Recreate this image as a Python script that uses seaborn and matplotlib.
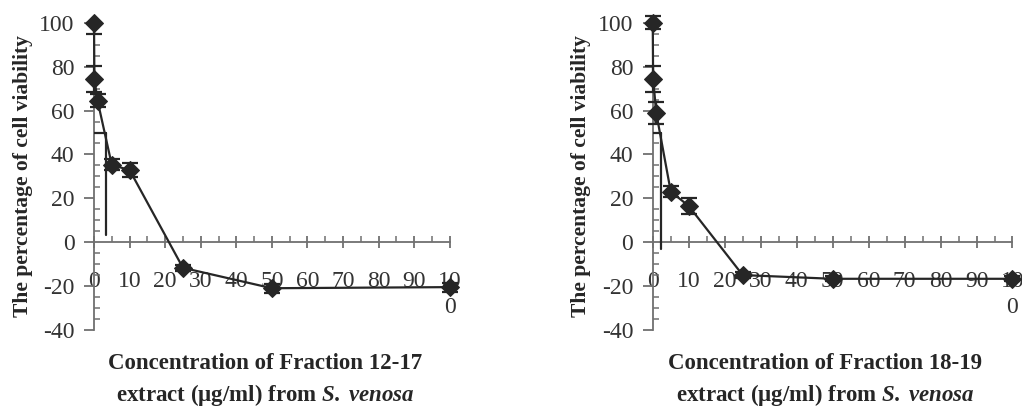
import matplotlib
matplotlib.use('Agg')
import matplotlib.pyplot as plt
from matplotlib.ticker import MultipleLocator, FixedLocator
import seaborn as sns
import pandas as pd

# concentrations (ug/ml)
conc = [0, 0.1, 1, 5, 10, 25, 50, 100]

# Fraction 12-17
viab_12_17 = [100, 74.3, 64.5, 35.2, 32.9, -11.7, -21.0, -20.5]
err_lo_12_17 = [5, 6, 3, 2.5, 3.3, 1.5, 2, 2]
err_hi_12_17 = [0, 6, 3, 2.5, 3.3, 1.5, 2, 2]
ic50_x_12_17 = 3.45
ic50_y_12_17 = [50, 3.2]

# Fraction 18-19
viab_18_19 = [100, 74.3, 58.7, 23.1, 16.5, -15.0, -16.7, -16.7]
err_18_19 = [3, 6, 5, 2.5, 3.5, 1.5, 1.2, 1.2]
ic50_x_18_19 = 2.2
ic50_y_18_19 = [50, -3.3]

x_ticks = [0, 10, 20, 30, 40, 50, 60, 70, 80, 90, 100]
x_tick_labels = ['0', '10', '20', '30', '40', '50', '60', '70', '80', '90', '10\n0']
y_ticks = [-40, -20, 0, 20, 40, 60, 80, 100]

xlabels = ['Concentration of Fraction 12-17\nextract (\u03bcg/ml) from $\\mathbfit{S.\\,venosa}$',
           'Concentration of Fraction 18-19\nextract (\u03bcg/ml) from $\\mathbfit{S.\\,venosa}$']
ylabel = 'The percentage of cell viability'

sns.set_theme(style='white')
plt.rcParams['font.family'] = ['Liberation Serif', 'DejaVu Serif']
plt.rcParams['axes.unicode_minus'] = False
plt.rcParams['mathtext.fontset'] = 'custom'
plt.rcParams['mathtext.rm'] = 'Liberation Serif:bold'
plt.rcParams['mathtext.bfit'] = 'Liberation Serif:italic:bold'

DARK = '#262626'
AXC = '#707070'

fig = plt.figure(figsize=(10.22, 4.16), dpi=100)
ax1 = fig.add_axes([0.092, 0.207, 0.348, 0.738])
ax2 = fig.add_axes([0.6387, 0.207, 0.352, 0.738])

panels = [
    (ax1, viab_12_17, (err_lo_12_17, err_hi_12_17), ic50_x_12_17, ic50_y_12_17, xlabels[0]),
    (ax2, viab_18_19, (err_18_19, err_18_19), ic50_x_18_19, ic50_y_18_19, xlabels[1]),
]

for ax, viab, errs, icx, icy, xl in panels:
    df = pd.DataFrame({'conc': conc, 'viab': viab})
    ax.errorbar(conc, viab, yerr=[errs[0], errs[1]], fmt='none', ecolor=DARK,
                elinewidth=1.6, capsize=6, capthick=1.6, clip_on=False, zorder=3)
    sns.lineplot(data=df, x='conc', y='viab', ax=ax, color=DARK, lw=1.6,
                 marker='D', markersize=9, markeredgecolor=DARK, estimator=None,
                 sort=False, clip_on=False, zorder=4)
    # IC50 guide lines
    ax.plot([0, icx], [icy[0], icy[0]], color=DARK, lw=1.6, zorder=3)
    ax.plot([icx, icx], icy, color=DARK, lw=1.6, zorder=3)

    ax.set_xlim(0, 100)
    ax.set_ylim(-40, 100)
    ax.spines['top'].set_visible(False)
    ax.spines['right'].set_visible(False)
    ax.spines['bottom'].set_position(('data', 0))
    ax.spines['left'].set_position(('data', 0))
    for s in ('bottom', 'left'):
        ax.spines[s].set_color(AXC)
        ax.spines[s].set_linewidth(1.3)

    ax.xaxis.set_major_locator(FixedLocator(x_ticks))
    ax.set_xticklabels(x_tick_labels)
    ax.xaxis.set_minor_locator(MultipleLocator(5))
    ax.yaxis.set_major_locator(FixedLocator(y_ticks))
    ax.yaxis.set_minor_locator(MultipleLocator(5))

    ax.tick_params(axis='x', which='both', bottom=True, top=False)
    ax.tick_params(axis='y', which='both', left=True, right=False)
    ax.tick_params(axis='x', which='major', direction='inout', length=9, width=1.3,
                   color=AXC, labelsize=17, labelcolor='#333333', pad=16)
    ax.tick_params(axis='x', which='minor', direction='in', length=4, width=1.1, color=AXC)
    ax.tick_params(axis='y', which='major', direction='out', length=7, width=1.3,
                   color=AXC, labelsize=17, labelcolor='#333333', pad=7)
    ax.tick_params(axis='y', which='minor', direction='in', length=4, width=1.1, color=AXC)
    for lab in ax.get_xticklabels():
        lab.set_linespacing(1.35)

    ax.set_ylabel(ylabel, fontsize=15.5, fontweight='bold', color=DARK)
    ax.yaxis.set_label_coords(-0.172, 0.5)
    ax.set_xlabel(xl, fontsize=16.5, fontweight='bold', color=DARK, linespacing=1.45)
    ax.xaxis.set_label_coords(0.48, -0.075)
    ax.xaxis.label.set_verticalalignment('top')

plt.savefig('out.png', dpi=100)
